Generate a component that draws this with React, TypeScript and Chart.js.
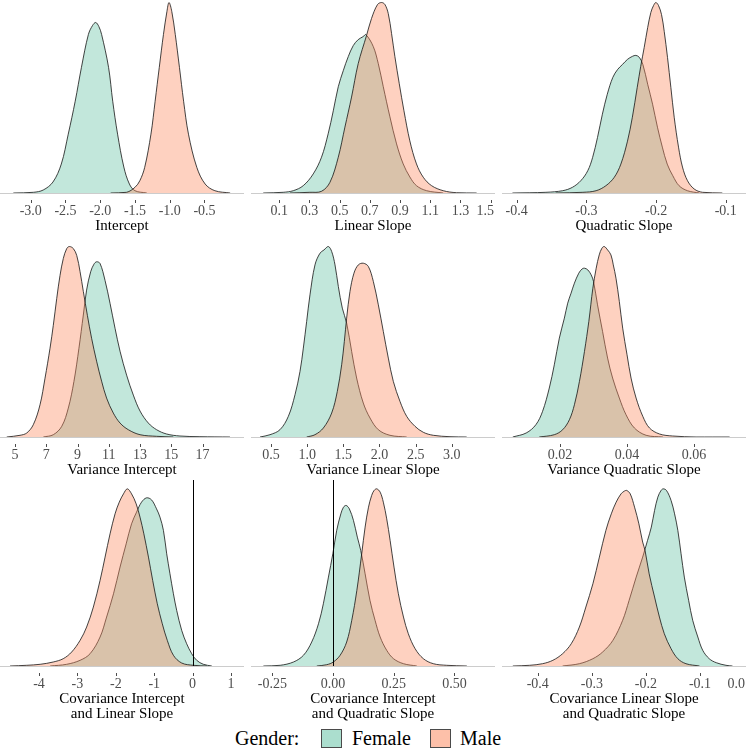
import React, { useEffect, useRef } from "react";
import { Chart, registerables } from "chart.js";

Chart.register(...registerables);

// ---- Posterior densities (x = parameter value, d = density height, arbitrary units) ----

// Intercept
const interceptFemaleX = [-3.25, -2.96, -2.82, -2.68, -2.56, -2.46, -2.36, -2.27, -2.17, -2.11, -2.065, -2.02, -1.98, -1.88, -1.82, -1.75, -1.66, -1.58, -1.5, -1.33];
const interceptFemaleD = [0, 0.7, 3, 11, 29, 59, 92, 126, 159, 168, 171, 167, 159, 126, 92, 59, 26, 9, 2.3, 0];
const interceptMaleX = [-1.85, -1.62, -1.5, -1.43, -1.36, -1.27, -1.21, -1.15, -1.09, -1.04, -1.01, -0.97, -0.92, -0.86, -0.8, -0.73, -0.61, -0.49, -0.35, -0.13];
const interceptMaleD = [0, 0.7, 5.7, 12.3, 25.7, 59, 92, 126, 159, 182, 191, 182, 159, 126, 92, 59, 25.7, 9, 2.3, 0];

// Linear slope
const linearFemaleX = [-0.006, 0.126, 0.193, 0.259, 0.325, 0.38, 0.424, 0.458, 0.491, 0.524, 0.557, 0.59, 0.623, 0.656, 0.674, 0.723, 0.756, 0.789, 0.833, 0.877, 0.921, 0.965, 1.009, 1.076, 1.186];
const linearFemaleD = [0, 0.7, 2.3, 7.3, 19, 35.7, 59, 82, 106, 122, 136, 147, 153, 156, 158, 146, 129, 106, 76, 49, 29, 16, 7.3, 2.3, 0];
const linearMaleX = [0.171, 0.303, 0.38, 0.436, 0.491, 0.535, 0.579, 0.623, 0.678, 0.711, 0.751, 0.778, 0.8, 0.822, 0.844, 0.866, 0.895, 0.926, 0.965, 1.009, 1.054, 1.109, 1.186, 1.274, 1.407];
const linearMaleD = [0, 0.7, 1.7, 10.7, 35.7, 65.7, 95.7, 129, 157, 174, 188, 190, 188, 179, 159, 136, 109, 82, 52, 29, 15.7, 7.3, 2.3, 0.3, 0];

// Quadratic slope
const quadFemaleX = [-0.406, -0.358, -0.334, -0.32, -0.308, -0.298, -0.291, -0.284, -0.277, -0.27, -0.262, -0.255, -0.248, -0.241, -0.234, -0.229, -0.224, -0.219, -0.212, -0.205, -0.198, -0.191, -0.184, -0.176, -0.167, -0.155, -0.138];
const quadFemaleD = [0, 0.7, 2.3, 5.7, 12.3, 22.3, 35.7, 55.7, 79, 99, 116, 124, 129, 134, 137, 138, 136, 129, 109, 89, 66, 46, 29, 17.3, 7.3, 2.3, 0];
const quadMaleX = [-0.344, -0.305, -0.286, -0.272, -0.26, -0.2505, -0.241, -0.234, -0.227, -0.222, -0.217, -0.212, -0.2075, -0.2036, -0.2003, -0.1965, -0.1922, -0.1883, -0.1836, -0.1788, -0.174, -0.1678, -0.1621, -0.1549, -0.1453, -0.1334, -0.105];
const quadMaleD = [0, 0.7, 2.3, 7.3, 15.7, 29, 52, 76, 106, 127, 146, 166, 181, 188, 191, 188, 179, 162, 136, 106, 76, 46, 26, 12.3, 4, 0.7, 0];

// Variance intercept
const varIntFemaleX = [6.81, 7.45, 7.99, 8.41, 8.77, 9.09, 9.37, 9.58, 9.84, 10.05, 10.22, 10.44, 10.76, 11.08, 11.4, 11.72, 12.14, 12.57, 13.0, 13.53, 14.06, 14.7, 15.55, 16.83, 18.75];
const varIntFemaleD = [0, 2.3, 10.7, 29, 55.7, 89, 122.3, 147.3, 165.7, 173.3, 175.7, 174, 157, 134, 109, 86, 62, 42, 26, 14, 7.3, 3, 1, 0.3, 0];
const varIntMaleX = [4.47, 5.32, 5.75, 6.17, 6.6, 6.92, 7.24, 7.45, 7.67, 7.88, 8.09, 8.31, 8.48, 8.73, 8.95, 9.16, 9.37, 9.63, 9.9, 10.22, 10.54, 10.86, 11.29, 11.72, 12.25, 13.0, 14.06, 15.13];
const varIntMaleD = [0, 1.7, 4, 12.3, 32.3, 59, 89, 112, 139, 162, 179, 189, 191, 189, 182, 166, 146, 122, 99, 76, 56, 39, 24, 14, 7.3, 2.3, 0.7, 0];

// Variance linear slope
const varLinFemaleX = [0.348, 0.486, 0.624, 0.74, 0.832, 0.901, 0.947, 0.993, 1.039, 1.108, 1.177, 1.233, 1.293, 1.339, 1.385, 1.431, 1.486, 1.546, 1.615, 1.684, 1.776, 1.869, 1.984, 2.145, 2.376];
const varLinFemaleD = [0, 2.3, 7.3, 20.7, 42.3, 65.7, 89, 115.7, 142.3, 172.3, 184, 187.3, 190.7, 185.7, 172.3, 150.7, 129, 114, 85.7, 59, 34, 19, 7.3, 1.7, 0];
const varLinMaleX = [0.993, 1.108, 1.224, 1.339, 1.417, 1.477, 1.514, 1.546, 1.592, 1.647, 1.707, 1.776, 1.846, 1.915, 1.984, 2.053, 2.122, 2.191, 2.283, 2.376, 2.491, 2.606, 2.744, 2.975, 3.205];
const varLinMaleD = [0, 2.3, 9, 24, 45.7, 72.3, 95.7, 119, 145.7, 164, 172.3, 174, 170.7, 155.7, 132.3, 105.7, 79, 55.7, 35.7, 20.7, 10.7, 4.7, 1.7, 0.3, 0];

// Variance quadratic slope
const varQuadFemaleX = [0.0059, 0.0099, 0.0128, 0.0148, 0.0168, 0.0183, 0.0198, 0.0213, 0.0223, 0.0233, 0.0243, 0.0256, 0.0266, 0.0273, 0.0283, 0.0293, 0.03, 0.0312, 0.0327, 0.0342, 0.0357, 0.0377, 0.0397, 0.0422, 0.0457, 0.0507];
const varQuadFemaleD = [0, 4, 12.3, 25.7, 49, 72.3, 99, 119, 134, 144, 154, 164, 168.3, 169, 167.3, 162.3, 155.7, 132.3, 105.7, 79, 59, 39, 22.3, 9, 1.7, 0];
const varQuadMaleX = [0.0138, 0.0183, 0.0208, 0.0228, 0.0243, 0.0258, 0.0273, 0.0286, 0.0298, 0.0308, 0.0317, 0.0325, 0.0332, 0.0342, 0.0352, 0.0359, 0.0367, 0.0377, 0.0387, 0.04, 0.0412, 0.0427, 0.0447, 0.0467, 0.0497, 0.0536, 0.0606, 0.0706];
const varQuadMaleD = [0, 2.3, 7.3, 17.3, 32.3, 55.7, 85.7, 115.7, 149, 169, 182.3, 189, 190.7, 187.3, 182.3, 172.3, 159, 135.7, 109, 82.3, 59, 39, 20.7, 9, 3, 1, 0, 0];

// Covariance intercept / linear slope
const covIntLinFemaleX = [-3.71, -3.28, -2.93, -2.67, -2.41, -2.24, -2.06, -1.89, -1.73, -1.59, -1.46, -1.33, -1.2, -1.07, -0.94, -0.85, -0.76, -0.675, -0.59, -0.5, -0.415, -0.285, -0.155, -0.024, 0.106, 0.28, 0.5];
const covIntLinFemaleD = [0, 1.7, 5.7, 12.3, 29, 49, 72.3, 99, 122.3, 142.3, 154, 164, 168.3, 166.3, 157.3, 149, 135.7, 112.3, 92.3, 72.3, 55.7, 35.7, 22.3, 12.3, 5.7, 1.7, 0];
const covIntLinMaleX = [-4.755, -4.32, -3.97, -3.63, -3.37, -3.15, -2.93, -2.76, -2.585, -2.41, -2.28, -2.15, -2.02, -1.91, -1.8, -1.7, -1.59, -1.47, -1.37, -1.27, -1.15, -1.04, -0.92, -0.79, -0.66, -0.5, -0.285, 0.02, 0.37];
const covIntLinMaleD = [0, 0.7, 1.7, 4, 7.3, 14, 25.7, 39, 59, 85.7, 109, 132.3, 152.3, 164, 172.3, 177.3, 172.3, 162.3, 149, 132.3, 109, 85.7, 62.3, 42.3, 25.7, 10.7, 3, 0.7, 0];

// Covariance intercept / quadratic slope
const covIntQuadFemaleX = [-0.287, -0.218, -0.163, -0.122, -0.088, -0.06, -0.04, -0.019, -0.001, 0.015, 0.032, 0.043, 0.054, 0.067, 0.084, 0.1, 0.114, 0.132, 0.152, 0.173, 0.194, 0.221, 0.249, 0.29, 0.345];
const covIntQuadFemaleD = [0, 0.7, 4, 10.7, 24, 42.3, 62.3, 89, 112.3, 135.7, 152.3, 159, 160.7, 157.3, 145.7, 129, 115.7, 92.3, 65.7, 45.7, 29, 15.7, 7.3, 2.3, 0];
const covIntQuadMaleX = [-0.067, -0.026, 0.001, 0.029, 0.056, 0.077, 0.098, 0.118, 0.132, 0.146, 0.159, 0.169, 0.18, 0.194, 0.207, 0.221, 0.235, 0.251, 0.269, 0.29, 0.31, 0.338, 0.372, 0.413, 0.468, 0.551];
const covIntQuadMaleD = [0, 1.3, 4, 10.7, 24, 45.7, 75.7, 112.3, 139, 159, 170.7, 175.7, 177.3, 174, 164, 147.3, 125.7, 99, 72.3, 49, 32.3, 17.3, 7.3, 2.3, 0.7, 0];

// Covariance linear slope / quadratic slope
const covLinQuadFemaleX = [-0.354, -0.323, -0.298, -0.28, -0.261, -0.243, -0.231, -0.218, -0.206, -0.197, -0.19, -0.184, -0.178, -0.172, -0.168, -0.162, -0.1535, -0.147, -0.141, -0.135, -0.129, -0.121, -0.1135, -0.104, -0.095, -0.083, -0.07, -0.052, -0.04];
const covLinQuadFemaleD = [0, 2.3, 7.3, 14, 25.7, 45.7, 65.7, 89, 109, 125.7, 139, 155.7, 169, 175.7, 177.3, 175.7, 165.7, 152.3, 135.7, 112.3, 89, 65.7, 45.7, 29, 15.7, 7.3, 3.3, 0.7, 0];
const covLinQuadMaleX = [-0.446, -0.415, -0.391, -0.372, -0.354, -0.338, -0.323, -0.311, -0.298, -0.286, -0.274, -0.264, -0.255, -0.246, -0.24, -0.2355, -0.229, -0.221, -0.213, -0.206, -0.2016, -0.194, -0.184, -0.175, -0.166, -0.1535, -0.141, -0.126, -0.101];
const covLinQuadMaleD = [0, 0.7, 2.3, 5.7, 12.3, 22.3, 39, 59, 82.3, 109, 135.7, 152.3, 164, 172.3, 175, 175.7, 172.3, 159, 142.3, 124, 115.7, 92.3, 69, 49, 32.3, 17.3, 7.3, 2.3, 0];

// ---- Tick labels for each panel ----
const interceptTicks = ["-3.0", "-2.5", "-2.0", "-1.5", "-1.0", "-0.5"];
const linearTicks = ["0.1", "0.3", "0.5", "0.7", "0.9", "1.1", "1.3", "1.5"];
const quadTicks = ["-0.4", "-0.3", "-0.2", "-0.1"];
const varIntTicks = ["5", "7", "9", "11", "13", "15", "17"];
const varLinTicks = ["0.5", "1.0", "1.5", "2.0", "2.5", "3.0"];
const varQuadTicks = ["0.02", "0.04", "0.06"];
const covIntLinTicks = ["-4", "-3", "-2", "-1", "0", "1"];
const covIntQuadTicks = ["-0.25", "0.00", "0.25", "0.50"];
const covLinQuadTicks = ["-0.4", "-0.3", "-0.2", "-0.1", "0.0"];

// ---- Legend ----
const legendTitle = "Gender:";
const groups = ["Female", "Male"];

const FEMALE_FILL = "rgba(102,194,165,0.4)";
const MALE_FILL = "rgba(252,141,98,0.4)";
const FEMALE_KEY = "rgba(102,194,165,0.55)";
const MALE_KEY = "rgba(252,141,98,0.55)";
const OUTLINE = "#141414";
const SERIF = '"Liberation Serif", "DejaVu Serif", serif';

type Panel = {
  title: string[];
  ticks: string[];
  limits: [number, number];
  fx: number[];
  fd: number[];
  mx: number[];
  md: number[];
  zeroLine: boolean;
};

const panels: Panel[] = [
  { title: ["Intercept"], ticks: interceptTicks, limits: [-3.442, 0.069], fx: interceptFemaleX, fd: interceptFemaleD, mx: interceptMaleX, md: interceptMaleD, zeroLine: false },
  { title: ["Linear Slope"], ticks: linearTicks, limits: [-0.087, 1.529], fx: linearFemaleX, fd: linearFemaleD, mx: linearMaleX, md: linearMaleD, zeroLine: false },
  { title: ["Quadratic Slope"], ticks: quadTicks, limits: [-0.421, -0.071], fx: quadFemaleX, fd: quadFemaleD, mx: quadMaleX, md: quadMaleD, zeroLine: false },
  { title: ["Variance Intercept"], ticks: varIntTicks, limits: [4.04, 19.65], fx: varIntFemaleX, fd: varIntFemaleD, mx: varIntMaleX, md: varIntMaleD, zeroLine: false },
  { title: ["Variance Linear Slope"], ticks: varLinTicks, limits: [0.2235, 3.597], fx: varLinFemaleX, fd: varLinFemaleD, mx: varLinMaleX, md: varLinMaleD, zeroLine: false },
  { title: ["Variance Quadratic Slope"], ticks: varQuadTicks, limits: [0.00269, 0.0755], fx: varQuadFemaleX, fd: varQuadFemaleD, mx: varQuadMaleX, md: varQuadMaleD, zeroLine: false },
  { title: ["Covariance Intercept", "and Linear Slope"], ticks: covIntLinTicks, limits: [-5.016, 1.338], fx: covIntLinFemaleX, fd: covIntLinFemaleD, mx: covIntLinMaleX, md: covIntLinMaleD, zeroLine: true },
  { title: ["Covariance Intercept", "and Quadratic Slope"], ticks: covIntQuadTicks, limits: [-0.338, 0.667], fx: covIntQuadFemaleX, fd: covIntQuadFemaleD, mx: covIntQuadMaleX, md: covIntQuadMaleD, zeroLine: true },
  { title: ["Covariance Linear Slope", "and Quadratic Slope"], ticks: covLinQuadTicks, limits: [-0.466, -0.015], fx: covLinQuadFemaleX, fd: covLinQuadFemaleD, mx: covLinQuadMaleX, md: covLinQuadMaleD, zeroLine: true },
];

// Grid geometry: column lefts, row plot tops and baselines (px)
const COL_LEFT = [0, 251, 502];
const COL_WIDTH = 244;
const ROW_TOP = [-7, 237, 480];
const ROW_BASE = [193, 437, 666];
const BELOW = 55;

const toPoints = (xs: number[], ds: number[]) => xs.map((x, i) => ({ x, y: ds[i] }));

function DensityPanel({ spec, left, top, plotHeight }: { spec: Panel; left: number; top: number; plotHeight: number }) {
  const ref = useRef<HTMLCanvasElement | null>(null);

  useEffect(() => {
    const canvas = ref.current;
    if (!canvas) return;
    const peak = Math.max(...spec.fd, ...spec.md);

    const axisPlugin = {
      id: "densityAxis",
      beforeDatasetsDraw(chart: any) {
        const { ctx, chartArea } = chart;
        ctx.save();
        ctx.strokeStyle = "#cccccc";
        ctx.lineWidth = 1;
        ctx.beginPath();
        ctx.moveTo(chartArea.left, chartArea.bottom + 0.5);
        ctx.lineTo(chartArea.right, chartArea.bottom + 0.5);
        ctx.stroke();
        ctx.restore();
      },
      afterDatasetsDraw(chart: any) {
        if (!spec.zeroLine) return;
        const { ctx, chartArea } = chart;
        const xs = chart.scales.x;
        const px = xs.getPixelForValue(0);
        if (px < chartArea.left || px > chartArea.right) return;
        ctx.save();
        ctx.strokeStyle = "#000000";
        ctx.lineWidth = 1;
        ctx.beginPath();
        ctx.moveTo(Math.round(px) + 0.5, chartArea.top);
        ctx.lineTo(Math.round(px) + 0.5, chartArea.bottom);
        ctx.stroke();
        ctx.restore();
      },
      afterDraw(chart: any) {
        const { ctx, chartArea, width } = chart;
        const xs = chart.scales.x;
        const base = chartArea.bottom;
        ctx.save();
        ctx.font = `14px ${SERIF}`;
        ctx.textAlign = "center";
        ctx.textBaseline = "middle";
        for (const label of spec.ticks) {
          const px = xs.getPixelForValue(Number(label));
          if (px >= chartArea.left && px <= chartArea.right) {
            ctx.strokeStyle = "#4d4d4d";
            ctx.lineWidth = 1;
            ctx.beginPath();
            ctx.moveTo(Math.round(px) + 0.5, base + 7);
            ctx.lineTo(Math.round(px) + 0.5, base + 10);
            ctx.stroke();
          }
          const half = ctx.measureText(label).width / 2;
          const lx = Math.min(Math.max(px, half + 1), width - half - 1);
          ctx.fillStyle = "#4d4d4d";
          ctx.fillText(label, lx, base + 18);
        }
        ctx.font = `15px ${SERIF}`;
        ctx.fillStyle = "#000000";
        spec.title.forEach((line, i) => {
          ctx.fillText(line, (chartArea.left + chartArea.right) / 2, base + 33 + i * 15);
        });
        ctx.restore();
      },
    };

    const line = {
      fill: "origin" as const,
      borderColor: OUTLINE,
      borderWidth: 0.8,
      pointRadius: 0,
      tension: 0.35,
    };

    const chart = new Chart(canvas, {
      type: "line",
      data: {
        datasets: [
          { ...line, label: groups[1], data: toPoints(spec.mx, spec.md), backgroundColor: MALE_FILL, order: 0 },
          { ...line, label: groups[0], data: toPoints(spec.fx, spec.fd), backgroundColor: FEMALE_FILL, order: 1 },
        ],
      },
      options: {
        responsive: false,
        animation: false,
        events: [],
        layout: { padding: { left: 0, right: 0, top: 0, bottom: BELOW } },
        scales: {
          x: { type: "linear", min: spec.limits[0], max: spec.limits[1], display: false },
          y: { min: 0, max: peak * 1.05, display: false },
        },
        plugins: { legend: { display: false }, tooltip: { enabled: false } },
      },
      plugins: [axisPlugin],
    });
    return () => chart.destroy();
  }, [spec]);

  return (
    <canvas
      ref={ref}
      width={COL_WIDTH}
      height={plotHeight + BELOW}
      style={{ position: "absolute", left, top, width: COL_WIDTH, height: plotHeight + BELOW }}
    />
  );
}

export default function App() {
  const text: React.CSSProperties = {
    position: "absolute",
    top: 727,
    fontFamily: SERIF,
    fontSize: 20,
    lineHeight: "22px",
    color: "#000",
    whiteSpace: "nowrap",
  };
  const key: React.CSSProperties = {
    position: "absolute",
    top: 729,
    width: 21,
    height: 19,
    boxSizing: "border-box",
    border: "1px solid #4a4a4a",
  };
  return (
    <div style={{ position: "absolute", left: 0, top: 0, width: 746, height: 749, overflow: "hidden", background: "#fff" }}>
      {panels.map((p, i) => {
        const r = Math.floor(i / 3);
        const c = i % 3;
        return (
          <DensityPanel key={i} spec={p} left={COL_LEFT[c]} top={ROW_TOP[r]} plotHeight={ROW_BASE[r] - ROW_TOP[r]} />
        );
      })}
      <span style={{ ...text, left: 235 }}>{legendTitle}</span>
      <div style={{ ...key, left: 321, background: FEMALE_KEY }} />
      <span style={{ ...text, left: 352 }}>{groups[0]}</span>
      <div style={{ ...key, left: 430, background: MALE_KEY }} />
      <span style={{ ...text, left: 460 }}>{groups[1]}</span>
    </div>
  );
}
